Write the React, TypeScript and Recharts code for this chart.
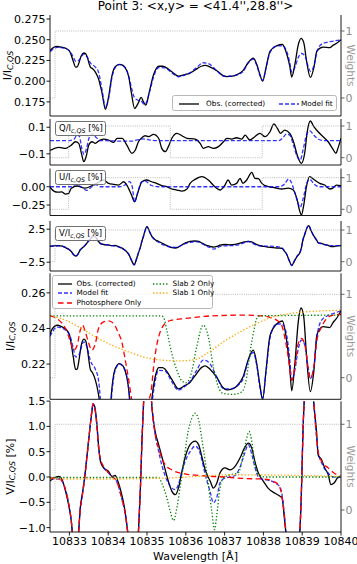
import React from 'react';
import { LineChart, Line, XAxis, YAxis, Legend } from 'recharts';

type Pair = [number, number];

const FONT = '"DejaVu Sans", Verdana, sans-serif';
const X_DOMAIN: [number, number] = [10832.5, 10840];
const X_TICKS = [10833, 10834, 10835, 10836, 10837, 10838, 10839, 10840];

// Stokes I (observed, corrected) in units of I_c,QS
const obsI: Pair[] = [
  [10832.5, 0.2365], [10832.55, 0.2395], [10832.69, 0.2418], [10832.8, 0.241], [10832.9, 0.2398],
  [10833.0, 0.2365], [10833.05, 0.231], [10833.1, 0.224], [10833.16, 0.217], [10833.2, 0.2172],
  [10833.24, 0.2212], [10833.3, 0.23], [10833.37, 0.234], [10833.42, 0.233], [10833.46, 0.229],
  [10833.54, 0.217], [10833.6, 0.215], [10833.67, 0.211], [10833.75, 0.203], [10833.84, 0.186],
  [10833.93, 0.166], [10834.01, 0.1811], [10834.1, 0.2073], [10834.18, 0.2174], [10834.29, 0.2203],
  [10834.38, 0.219], [10834.43, 0.2167], [10834.53, 0.2053], [10834.6, 0.1852], [10834.68, 0.1671],
  [10834.77, 0.1732], [10834.85, 0.1804], [10834.91, 0.1751], [10834.97, 0.1711], [10835.06, 0.1872],
  [10835.17, 0.208], [10835.25, 0.216], [10835.3, 0.218], [10835.4, 0.218], [10835.47, 0.217],
  [10835.64, 0.2114], [10835.81, 0.2061], [10835.98, 0.208], [10836.1, 0.2095], [10836.24, 0.2135],
  [10836.4, 0.218], [10836.5, 0.219], [10836.63, 0.217], [10836.8, 0.2125], [10836.95, 0.207],
  [10837.06, 0.2055], [10837.2, 0.206], [10837.31, 0.2075], [10837.48, 0.213], [10837.61, 0.2225],
  [10837.74, 0.2278], [10837.83, 0.22], [10837.91, 0.208], [10837.98, 0.2], [10838.07, 0.217],
  [10838.17, 0.236], [10838.34, 0.2425], [10838.49, 0.2442], [10838.6, 0.233], [10838.68, 0.218],
  [10838.73, 0.205], [10838.81, 0.22], [10838.9, 0.244], [10838.97, 0.2515], [10839.04, 0.2465],
  [10839.11, 0.225], [10839.21, 0.2045], [10839.3, 0.216], [10839.38, 0.2365], [10839.54, 0.241],
  [10839.71, 0.2405], [10839.8, 0.2435], [10839.88, 0.2455], [10840.0, 0.25],
];

const fitI: Pair[] = [
  [10832.5, 0.2355], [10832.69, 0.2408], [10832.9, 0.2392], [10833.03, 0.235], [10833.1, 0.229],
  [10833.16, 0.224], [10833.24, 0.225], [10833.37, 0.2325], [10833.46, 0.229], [10833.54, 0.222],
  [10833.67, 0.217], [10833.75, 0.211], [10833.84, 0.19], [10833.93, 0.168], [10834.01, 0.179],
  [10834.1, 0.205], [10834.18, 0.2165], [10834.29, 0.22], [10834.43, 0.2168], [10834.53, 0.206],
  [10834.6, 0.192], [10834.68, 0.18], [10834.77, 0.177], [10834.85, 0.176], [10834.93, 0.172],
  [10834.97, 0.173], [10835.06, 0.186], [10835.17, 0.205], [10835.3, 0.2165], [10835.47, 0.216],
  [10835.64, 0.21], [10835.81, 0.2053], [10835.98, 0.2075], [10836.1, 0.21], [10836.28, 0.2165],
  [10836.45, 0.2222], [10836.58, 0.2212], [10836.8, 0.2127], [10836.97, 0.2062], [10837.14, 0.206],
  [10837.31, 0.2075], [10837.48, 0.2119], [10837.61, 0.222], [10837.74, 0.2265], [10837.83, 0.219],
  [10837.91, 0.207], [10837.98, 0.201], [10838.07, 0.216], [10838.17, 0.2345], [10838.34, 0.2425],
  [10838.49, 0.2425], [10838.6, 0.2362], [10838.68, 0.2222], [10838.73, 0.211], [10838.81, 0.2165],
  [10838.9, 0.2287], [10838.98, 0.2334], [10839.07, 0.2306], [10839.15, 0.2184], [10839.21, 0.2119],
  [10839.3, 0.2184], [10839.38, 0.2353], [10839.5, 0.2447], [10839.63, 0.2469], [10839.8, 0.2484],
  [10840.0, 0.2499],
];

const photoI: Pair[] = [
  [10832.5, 0.2471], [10832.73, 0.2447], [10832.9, 0.24], [10833.03, 0.2325], [10833.11, 0.2278],
  [10833.2, 0.2306], [10833.28, 0.239], [10833.34, 0.2419], [10833.41, 0.2381], [10833.5, 0.2316],
  [10833.58, 0.2278], [10833.67, 0.2316], [10833.75, 0.24], [10833.88, 0.2437], [10834.01, 0.2443],
  [10834.14, 0.2428], [10834.25, 0.2381], [10834.36, 0.2316], [10834.44, 0.2222], [10834.53, 0.2109],
  [10834.6, 0.2008], [10834.7, 0.188], [10834.82, 0.182], [10834.95, 0.19], [10835.04, 0.199],
  [10835.11, 0.2053], [10835.17, 0.2184], [10835.26, 0.2316], [10835.34, 0.2381], [10835.47, 0.2428],
  [10835.64, 0.2447], [10835.98, 0.2456], [10836.24, 0.2462], [10836.6, 0.247], [10837.5, 0.2475],
  [10838.0, 0.247], [10838.2, 0.246], [10838.34, 0.2447], [10838.47, 0.2419], [10838.56, 0.234],
  [10838.64, 0.224], [10838.73, 0.2109], [10838.81, 0.2184], [10838.9, 0.2316], [10838.98, 0.2344],
  [10839.07, 0.2306], [10839.15, 0.2184], [10839.21, 0.2119], [10839.3, 0.2184], [10839.38, 0.2334],
  [10839.5, 0.2409], [10839.63, 0.2456], [10839.8, 0.2475], [10840.0, 0.248],
];

const slab2I: Pair[] = [
  [10832.5, 0.2471], [10835.38, 0.2471], [10835.45, 0.245], [10835.51, 0.239], [10835.64, 0.2259],
  [10835.77, 0.2165], [10835.9, 0.2105], [10836.0, 0.2095], [10836.1, 0.212], [10836.16, 0.2165],
  [10836.28, 0.2296], [10836.45, 0.2419], [10836.58, 0.2353], [10836.71, 0.2184], [10836.84, 0.2071],
  [10836.97, 0.2034], [10837.22, 0.203], [10837.44, 0.2043], [10837.57, 0.2127], [10837.65, 0.2259],
  [10837.74, 0.2372], [10837.83, 0.2456], [10837.91, 0.2471], [10840.0, 0.2475],
];

const slab1I: Pair[] = [
  [10832.5, 0.2471], [10832.9, 0.2447], [10833.24, 0.2409], [10833.67, 0.2353], [10834.1, 0.2306],
  [10834.53, 0.2268], [10834.95, 0.2237], [10835.38, 0.2222], [10835.81, 0.2218], [10836.24, 0.2225],
  [10836.54, 0.2259], [10836.97, 0.2325], [10837.4, 0.2381], [10837.83, 0.2428], [10838.25, 0.2465],
  [10838.68, 0.2484], [10839.11, 0.2494], [10839.54, 0.2499], [10840.0, 0.2503],
];

// Stokes Q, U, V in % of I_c,QS
const obsQ: Pair[] = [
  [10832.5, -0.075], [10832.73, -0.051], [10832.9, -0.059], [10833.03, -0.039], [10833.16, -0.009],
  [10833.24, -0.021], [10833.31, -0.096], [10833.37, -0.159], [10833.43, -0.122], [10833.5, -0.034],
  [10833.58, -0.009], [10833.67, -0.021], [10833.75, -0.004], [10833.88, 0.011], [10834.01, 0.004],
  [10834.14, -0.014], [10834.23, 0.017], [10834.36, 0.017], [10834.48, -0.034], [10834.61, -0.096],
  [10834.7, -0.071], [10834.78, -0.009], [10834.87, 0.021], [10834.95, 0.036], [10835.04, 0.029],
  [10835.17, 0.047], [10835.3, 0.017], [10835.38, -0.059], [10835.47, -0.084], [10835.55, -0.046],
  [10835.64, 0.017], [10835.77, 0.054], [10835.9, 0.036], [10836.03, 0.017], [10836.24, 0.011],
  [10836.37, -0.021], [10836.45, -0.059], [10836.58, -0.046], [10836.71, -0.059], [10836.84, -0.046],
  [10836.97, -0.009], [10837.06, 0.017], [10837.18, 0.011], [10837.31, 0.021], [10837.44, 0.011],
  [10837.53, 0.041], [10837.65, 0.004], [10837.78, 0.029], [10837.91, 0.054], [10838.04, 0.029],
  [10838.17, 0.066], [10838.27, 0.125], [10838.36, 0.092], [10838.44, 0.054], [10838.55, 0.079],
  [10838.68, 0.054], [10838.79, -0.021], [10838.87, -0.109], [10838.98, -0.172], [10839.07, -0.084],
  [10839.13, 0.066], [10839.21, 0.147], [10839.3, 0.104], [10839.41, 0.066], [10839.54, 0.029],
  [10839.67, -0.009], [10839.78, -0.059], [10839.87, -0.096], [10839.92, -0.059], [10840.0, 0.017],
];

const fitQ: Pair[] = [
  [10832.5, 0], [10833.0, 0], [10833.12, 0.01], [10833.2, 0.045], [10833.26, 0.03], [10833.32, -0.06],
  [10833.38, -0.105], [10833.44, -0.06], [10833.52, 0.03], [10833.6, 0.05], [10833.7, 0.02],
  [10833.8, 0], [10834.6, -0.005], [10834.75, 0.005], [10834.9, 0.012], [10835.05, 0.005],
  [10835.2, 0], [10838.4, 0], [10838.5, 0.02], [10838.6, 0.05], [10838.68, 0.04], [10838.78, -0.04],
  [10838.87, -0.12], [10838.95, -0.145], [10839.03, -0.06], [10839.12, 0.05], [10839.2, 0.072],
  [10839.3, 0.04], [10839.42, 0.01], [10839.55, 0], [10840.0, 0],
];

const obsU: Pair[] = [
  [10832.5, -0.005], [10832.6, -0.06], [10832.7, -0.075], [10832.8, -0.07], [10832.9, -0.1],
  [10832.97, -0.095], [10833.05, -0.02], [10833.2, 0.01], [10833.4, -0.02], [10833.6, 0.02],
  [10833.75, 0.06], [10833.88, 0.092], [10834.01, 0.046], [10834.14, 0.033], [10834.27, 0.023],
  [10834.4, 0.068], [10834.48, 0.023], [10834.6, -0.113], [10834.68, -0.205], [10834.77, -0.068],
  [10834.87, 0.068], [10834.99, 0.092], [10835.12, 0.068], [10835.25, 0.046], [10835.38, 0.014],
  [10835.51, 0], [10835.64, -0.031], [10835.77, -0.045], [10835.9, -0.059], [10836.03, -0.031],
  [10836.11, 0.046], [10836.24, 0.1], [10836.41, 0.137], [10836.58, 0.092], [10836.75, 0],
  [10836.88, -0.045], [10837.01, 0.023], [10837.09, 0.092], [10837.18, 0.023], [10837.31, 0.046],
  [10837.4, 0.115], [10837.47, 0.046], [10837.57, 0.092], [10837.7, 0.197], [10837.78, 0.115],
  [10837.87, 0.11], [10837.96, 0.046], [10838.13, 0], [10838.3, -0.014], [10838.47, -0.031],
  [10838.64, -0.02], [10838.77, -0.045], [10838.87, -0.18], [10838.94, -0.34], [10838.98, -0.387],
  [10839.04, -0.25], [10839.11, 0], [10839.19, 0.137], [10839.32, 0.092], [10839.45, 0.046],
  [10839.58, 0.023], [10839.71, -0.031], [10839.79, -0.02], [10839.88, 0.023], [10840.0, 0.015],
];

const fitU: Pair[] = [
  [10832.5, 0], [10833.05, 0], [10833.15, 0.03], [10833.3, 0], [10833.45, -0.05], [10833.58, 0],
  [10833.68, 0.03], [10833.8, 0], [10834.3, 0], [10834.45, 0.03], [10834.55, 0.07], [10834.62, 0],
  [10834.68, -0.21], [10834.76, -0.08], [10834.85, 0.06], [10834.95, 0.08], [10835.1, 0.02],
  [10835.3, 0], [10838.4, 0], [10838.55, 0.04], [10838.65, 0.105], [10838.72, 0.06], [10838.82, -0.1],
  [10838.95, -0.28], [10839.03, -0.15], [10839.12, 0.05], [10839.2, 0.1], [10839.3, 0.04],
  [10839.45, 0], [10840.0, 0],
];

const obsV: Pair[] = [
  [10832.5, -0.08], [10832.6, -0.02], [10832.73, 0.01], [10832.81, -0.05], [10832.9, -0.28],
  [10832.98, -0.55], [10833.05, -0.88], [10833.1, -1.3], [10833.16, -1.56], [10833.22, -1.3],
  [10833.24, -1.07], [10833.28, -0.61], [10833.33, -0.35], [10833.39, -0.02], [10833.46, 0.47],
  [10833.52, 0.9], [10833.57, 1.23], [10833.61, 1.43], [10833.65, 1.4], [10833.71, 1.03],
  [10833.75, 0.64], [10833.8, 0.31], [10833.88, 0.18], [10834.01, 0.11], [10834.1, 0.01],
  [10834.18, 0.03], [10834.25, -0.085], [10834.34, -0.32], [10834.42, -0.61], [10834.48, -0.94],
  [10834.53, -1.3], [10834.6, -2.2], [10834.67, -2.9], [10834.73, -2.0], [10834.78, -1.07],
  [10834.83, -0.22], [10834.87, 0.71], [10834.91, 1.43], [10834.95, 2.3], [10835.0, 2.9],
  [10835.06, 2.2], [10835.13, 1.36], [10835.21, 0.9], [10835.3, 0.64], [10835.38, 0.41],
  [10835.47, 0.14], [10835.55, -0.085], [10835.64, -0.28], [10835.73, -0.35], [10835.81, -0.22],
  [10835.9, 0.11], [10835.98, 0.38], [10836.11, 0.64], [10836.24, 0.71], [10836.33, 0.64],
  [10836.41, 0.41], [10836.5, 0.14], [10836.63, -0.085], [10836.71, -0.22], [10836.8, -0.12],
  [10836.88, 0.08], [10837.01, 0.18], [10837.14, 0.14], [10837.27, 0.21], [10837.4, 0.38],
  [10837.51, 0.57], [10837.61, 0.67], [10837.7, 0.57], [10837.78, 0.31], [10837.87, 0.08],
  [10838.0, -0.085], [10838.12, -0.22], [10838.3, -0.32], [10838.43, -0.38], [10838.48, -0.41],
  [10838.54, -0.81], [10838.6, -1.3], [10838.67, -2.3], [10838.73, -3.0], [10838.8, -2.3],
  [10838.88, -1.5], [10838.94, -1.07], [10838.98, -0.28], [10839.02, 0.9], [10839.07, 1.8],
  [10839.13, 2.8], [10839.17, 3.05], [10839.22, 2.4], [10839.31, 1.36], [10839.37, 0.9],
  [10839.41, 0.44], [10839.5, 0.34], [10839.58, 0.18], [10839.67, 0.05], [10839.74, -0.15],
  [10839.82, -0.12], [10839.91, -0.02], [10840.0, 0.01],
];

const fitV: Pair[] = [
  [10832.5, -0.05], [10832.73, -0.04], [10832.81, -0.08], [10832.9, -0.25], [10832.98, -0.52],
  [10833.05, -0.88], [10833.1, -1.3], [10833.16, -1.6], [10833.22, -1.3], [10833.24, -1.07],
  [10833.28, -0.65], [10833.33, -0.38], [10833.39, -0.05], [10833.46, 0.45], [10833.52, 0.9],
  [10833.57, 1.25], [10833.61, 1.45], [10833.65, 1.38], [10833.71, 1.0], [10833.75, 0.6],
  [10833.8, 0.35], [10833.88, 0.2], [10834.01, 0.08], [10834.1, 0], [10834.18, -0.04],
  [10834.25, -0.15], [10834.34, -0.4], [10834.42, -0.65], [10834.48, -0.95], [10834.53, -1.3],
  [10834.6, -2.2], [10834.67, -2.9], [10834.73, -2.0], [10834.78, -1.07], [10834.83, -0.22],
  [10834.87, 0.71], [10834.91, 1.43], [10834.95, 2.3], [10835.0, 2.9], [10835.06, 2.2],
  [10835.13, 1.36], [10835.21, 0.85], [10835.3, 0.51], [10835.38, 0.24], [10835.47, 0.02],
  [10835.55, -0.12], [10835.64, -0.22], [10835.73, -0.25], [10835.81, -0.15], [10835.9, 0.1],
  [10835.98, 0.3], [10836.11, 0.5], [10836.24, 0.61], [10836.33, 0.55], [10836.41, 0.35],
  [10836.5, 0.05], [10836.63, -0.3], [10836.71, -0.51], [10836.8, -0.4], [10836.88, -0.12],
  [10837.01, -0.02], [10837.14, 0], [10837.27, 0.03], [10837.4, 0.2], [10837.51, 0.45],
  [10837.61, 0.64], [10837.7, 0.45], [10837.78, 0.2], [10837.87, 0], [10838.0, -0.05],
  [10838.12, -0.06], [10838.3, -0.12], [10838.43, -0.2], [10838.48, -0.35], [10838.54, -0.75],
  [10838.6, -1.3], [10838.67, -2.3], [10838.73, -3.0], [10838.8, -2.3], [10838.88, -1.5],
  [10838.94, -1.07], [10838.98, -0.28], [10839.02, 0.9], [10839.07, 1.8], [10839.13, 2.8],
  [10839.17, 3.05], [10839.22, 2.4], [10839.31, 1.36], [10839.37, 0.8], [10839.41, 0.5],
  [10839.5, 0.28], [10839.58, 0.16], [10839.67, 0.08], [10839.74, 0.02], [10839.82, 0],
  [10840.0, 0],
];

const photoV: Pair[] = [
  [10832.5, -0.02], [10832.73, -0.03], [10832.81, -0.08], [10832.9, -0.25], [10832.98, -0.52],
  [10833.05, -0.88], [10833.1, -1.3], [10833.16, -1.6], [10833.22, -1.3], [10833.24, -1.07],
  [10833.28, -0.65], [10833.33, -0.38], [10833.39, -0.05], [10833.46, 0.45], [10833.52, 0.9],
  [10833.57, 1.25], [10833.61, 1.45], [10833.65, 1.38], [10833.71, 1.0], [10833.75, 0.6],
  [10833.8, 0.36], [10833.88, 0.21], [10834.01, 0.08], [10834.1, 0], [10834.18, -0.04],
  [10834.25, -0.15], [10834.34, -0.4], [10834.42, -0.65], [10834.48, -0.95], [10834.53, -1.3],
  [10834.6, -2.2], [10834.67, -2.9], [10834.73, -2.0], [10834.78, -1.07], [10834.83, -0.22],
  [10834.87, 0.71], [10834.91, 1.43], [10834.95, 2.3], [10835.0, 2.9], [10835.06, 2.2],
  [10835.13, 1.36], [10835.21, 0.85], [10835.3, 0.57], [10835.47, 0.24], [10835.64, 0.14],
  [10835.98, 0.06], [10836.33, 0.03], [10836.7, 0.01], [10837.01, 0], [10837.5, -0.03],
  [10838.0, -0.04], [10838.3, -0.1], [10838.43, -0.22], [10838.5, -0.5], [10838.54, -0.75],
  [10838.6, -1.3], [10838.67, -2.3], [10838.73, -3.0], [10838.8, -2.3], [10838.88, -1.5],
  [10838.94, -1.07], [10838.98, -0.28], [10839.02, 0.9], [10839.07, 1.8], [10839.13, 2.8],
  [10839.17, 3.05], [10839.22, 2.4], [10839.31, 1.36], [10839.37, 0.8], [10839.41, 0.5],
  [10839.5, 0.31], [10839.67, 0.18], [10839.82, 0.08], [10840.0, 0.01],
];

const slab2V: Pair[] = [
  [10832.5, -0.01], [10835.3, -0.01], [10835.38, -0.12], [10835.51, -0.41], [10835.6, -0.68],
  [10835.68, -0.86], [10835.77, -0.61], [10835.85, -0.22], [10835.94, 0.24], [10836.03, 0.77],
  [10836.16, 1.17], [10836.24, 1.26], [10836.33, 1.13], [10836.41, 0.77], [10836.5, 0.31],
  [10836.58, -0.15], [10836.67, -0.68], [10836.74, -1.04], [10836.8, -0.74], [10836.88, -0.22],
  [10836.97, -0.02], [10837.18, 0.05], [10837.35, 0.08], [10837.48, 0.44], [10837.57, 0.77],
  [10837.63, 0.9], [10837.7, 0.71], [10837.78, 0.24], [10837.87, 0.05], [10838.04, 0],
  [10840.0, 0],
];

const slab1V: Pair[] = [
  [10832.5, -0.04], [10834.0, -0.04], [10835.5, -0.02], [10836.5, 0.02], [10837.2, 0.045],
  [10838.0, 0.04], [10839.0, 0.03], [10840.0, 0.01],
];

// fit weights (0 = ignored, 1 = used)
const weightsIV: Pair[] = [[10832.5, 0], [10832.63, 1], [10840.0, 1]];
const weightsQU: Pair[] = [[10832.5, 0], [10832.98, 1], [10835.6, 0], [10837.97, 1], [10840.0, 1]];

interface Style { color: string; dash?: string; width: number; opacity?: number }
interface Series { data: Pair[]; style: Style }

const OBS: Style = { color: '#000000', width: 1.3 };
const FIT: Style = { color: '#0000ff', dash: '4 2', width: 1.3, opacity: 0.8 };
const PHOTO: Style = { color: '#ff0000', dash: '5.5 3.5', width: 1.3 };
const SLAB2: Style = { color: '#008000', dash: '1.3 2', width: 1.3 };
const SLAB1: Style = { color: '#ffa500', dash: '1.3 2', width: 1.3 };
const WGT: Style = { color: '#a8a8a8', dash: '1 1.2', width: 0.8 };

const toPoints = (a: Pair[]) => a.map(([x, y]) => ({ x, y }));
const fmt = (d: number) => (v: number) => v.toFixed(d).replace('-', '\u2212');

function SideTitle(props: any) {
  const { cx, cy, main, sub, tail, rotate = -90, color = '#000', size = 11 } = props;
  return (
    <text
      x={cx}
      y={cy}
      transform={`rotate(${rotate}, ${cx}, ${cy})`}
      textAnchor="middle"
      dominantBaseline="central"
      fontFamily={FONT}
      fontSize={size}
      fill={color}
    >
      <tspan>{main}</tspan>
      {sub ? <tspan dy={2.5} fontSize={size * 0.72} fontStyle="italic">{sub}</tspan> : null}
      {tail ? <tspan dy={sub ? -2.5 : 0}>{tail}</tspan> : null}
    </text>
  );
}

function XTitle() {
  return (
    <text x={195.5} y={560} textAnchor="middle" fontFamily={FONT} fontSize={11} fill="#000">
      Wavelength [Å]
    </text>
  );
}

function Sample({ s, w }: { s: Style; w: number }) {
  return (
    <svg width={w} height={6} style={{ position: 'absolute', left: 0, top: -3 }}>
      <line x1={0} y1={3} x2={w} y2={3} stroke={s.color} strokeWidth={s.width}
        strokeDasharray={s.dash} strokeOpacity={s.opacity ?? 1} />
    </svg>
  );
}

interface Entry { label: string; style: Style; x: number; y: number; w: number; gap: number }

const boxStyle: React.CSSProperties = {
  position: 'relative', width: '100%', height: '100%', boxSizing: 'border-box',
  border: '0.8px solid #b8b8b8', borderRadius: 2.5, background: 'rgba(255,255,255,0.8)',
  fontFamily: FONT, fontSize: 7.3, color: '#000',
};

function LegendBox({ entries }: { entries: Entry[] }) {
  return (
    <div style={boxStyle}>
      {entries.map((e) => (
        <div key={e.label} style={{ position: 'absolute', left: e.x, top: e.y }}>
          <Sample s={e.style} w={e.w} />
          <span style={{ position: 'absolute', left: e.w + e.gap, top: -5, lineHeight: '10px', whiteSpace: 'nowrap' }}>
            {e.label}
          </span>
        </div>
      ))}
    </div>
  );
}

function StokesTag({ name }: { name: string }) {
  return (
    <div style={{ ...boxStyle, border: '0.8px solid #707070', fontSize: 8.5, lineHeight: '13px', paddingLeft: 3 }}>
      {name}/I<span style={{ fontSize: 6.3, fontStyle: 'italic', position: 'relative', top: 2 }}>c,QS</span> [%]
    </div>
  );
}

interface PanelProps {
  top: number;
  bottom: number;
  xLabels?: boolean;
  yDomain: [number, number];
  yTicks: number[];
  digits: number;
  wDomain: [number, number];
  weights: Pair[];
  series: Series[];
  yTitle?: React.ReactElement;
  wTitle?: boolean;
  legend?: React.ReactNode;
  legendBox?: { left: number; top: number; width: number; height: number };
}

function Panel(p: PanelProps) {
  const xh = p.xLabels ? 32 : 1;
  const cy = (p.top + p.bottom) / 2;
  return (
    <div style={{ position: 'absolute', left: 0, top: 0 }}>
      <LineChart width={357} height={564} margin={{ top: p.top, right: 0, bottom: 564 - p.bottom - xh, left: 0 }}>
        <XAxis
          dataKey="x" type="number" domain={X_DOMAIN} ticks={X_TICKS} allowDataOverflow
          height={xh} tickSize={3.5} tickMargin={2}
          axisLine={{ stroke: '#000', strokeWidth: 0.9 }} tickLine={{ stroke: '#000', strokeWidth: 0.9 }}
          tick={p.xLabels ? { fill: '#000', fontSize: 11, fontFamily: FONT } : false}
          label={p.xLabels ? <XTitle /> : undefined}
        />
        <XAxis
          xAxisId="top" orientation="top" dataKey="x" type="number" domain={X_DOMAIN} allowDataOverflow
          height={0} tick={false} tickLine={false} axisLine={{ stroke: '#000', strokeWidth: 0.9 }}
        />
        <YAxis
          type="number" domain={p.yDomain} ticks={p.yTicks} allowDataOverflow width={50}
          tickSize={3.5} tickMargin={1} tickFormatter={fmt(p.digits)}
          tick={{ fill: '#000', fontSize: 11, fontFamily: FONT }}
          axisLine={{ stroke: '#000', strokeWidth: 0.9 }} tickLine={{ stroke: '#000', strokeWidth: 0.9 }}
          label={p.yTitle}
        />
        <YAxis
          yAxisId="w" orientation="right" type="number" domain={p.wDomain} ticks={[0, 1]} allowDataOverflow
          width={16} tickSize={3.5} tickMargin={1}
          tick={{ fill: '#8c8c8c', fontSize: 11, fontFamily: FONT }}
          axisLine={{ stroke: '#000', strokeWidth: 0.9 }} tickLine={{ stroke: '#555', strokeWidth: 0.9 }}
          label={p.wTitle ? <SideTitle cx={351} cy={cy} main="Weights" rotate={90} color="#9a9a9a" size={10.5} /> : undefined}
        />
        {p.series.map((s, i) => (
          <Line
            key={i} data={toPoints(s.data)} dataKey="y" type="monotone" dot={false} activeDot={false}
            isAnimationActive={false} stroke={s.style.color} strokeWidth={s.style.width}
            strokeDasharray={s.style.dash} strokeOpacity={s.style.opacity ?? 1}
          />
        ))}
        <Line
          yAxisId="w" data={toPoints(p.weights)} dataKey="y" type="stepAfter" dot={false} activeDot={false}
          isAnimationActive={false} stroke={WGT.color} strokeWidth={WGT.width} strokeDasharray={WGT.dash}
        />
        {p.legend && p.legendBox ? (
          <Legend
            verticalAlign="middle" align="center"
            wrapperStyle={{ ...p.legendBox, position: 'absolute', margin: 0, padding: 0 }}
            content={() => p.legend}
          />
        ) : null}
      </LineChart>
    </div>
  );
}

const topLegend: Entry[] = [
  { label: 'Obs. (corrected)', style: OBS, x: 6, y: 8, w: 20, gap: 7 },
  { label: 'Model fit', style: FIT, x: 106, y: 8, w: 20, gap: 2 },
];

const compLegend: Entry[] = [
  { label: 'Obs. (corrected)', style: OBS, x: 4.5, y: 7.7, w: 14, gap: 5 },
  { label: 'Model fit', style: FIT, x: 4.5, y: 17.3, w: 14, gap: 5 },
  { label: 'Photosphere Only', style: PHOTO, x: 4.5, y: 27.3, w: 14, gap: 5 },
  { label: 'Slab 2 Only', style: SLAB2, x: 99.5, y: 7.7, w: 15, gap: 5 },
  { label: 'Slab 1 Only', style: SLAB1, x: 99.5, y: 17.3, w: 15, gap: 5 },
];

export default function App() {
  return (
    <div style={{ position: 'absolute', left: 0, top: 0, width: 357, height: 564, background: '#fff', fontFamily: FONT }}>
      <div style={{ position: 'absolute', left: 50, width: 291, top: 0, textAlign: 'center', fontSize: 12, lineHeight: '12px', whiteSpace: 'nowrap' }}>
        Point 3: &lt;x,y&gt; = &lt;41.4'',28.8''&gt;
      </div>
      <Panel
        top={15} bottom={116} yDomain={[0.158, 0.2798]} yTicks={[0.175, 0.2, 0.225, 0.25, 0.275]} digits={3}
        wDomain={[-0.269, 1.239]} weights={weightsIV}
        series={[{ data: obsI, style: OBS }, { data: fitI, style: FIT }]}
        yTitle={<SideTitle cx={7} cy={65.5} main="I/I" sub="C,QS" />} wTitle
        legend={<LegendBox entries={topLegend} />} legendBox={{ left: 172, top: 95, width: 165, height: 16 }}
      />
      <Panel
        top={119} bottom={165} yDomain={[-0.184, 0.162]} yTicks={[-0.1, 0, 0.1]} digits={1}
        wDomain={[-0.23, 1.22]} weights={weightsQU}
        series={[{ data: obsQ, style: OBS }, { data: fitQ, style: FIT }]}
        legend={<StokesTag name="Q" />} legendBox={{ left: 55, top: 121, width: 51, height: 14.5 }}
      />
      <Panel
        top={168.5} bottom={215.5} yDomain={[-0.393, 0.249]} yTicks={[-0.25, 0]} digits={2}
        wDomain={[-0.196, 1.29]} weights={weightsQU}
        series={[{ data: obsU, style: OBS }, { data: fitU, style: FIT }]}
        legend={<StokesTag name="U" />} legendBox={{ left: 55, top: 170, width: 51, height: 14.5 }}
      />
      <Panel
        top={221} bottom={271} yDomain={[-3.83, 3.74]} yTicks={[-2.5, 0, 2.5]} digits={1}
        wDomain={[-0.293, 1.284]} weights={weightsIV}
        series={[{ data: obsV, style: OBS }, { data: fitV, style: FIT }]}
        legend={<StokesTag name="V" />} legendBox={{ left: 55, top: 226, width: 51, height: 14.5 }}
      />
      <Panel
        top={273.3} bottom={399.3} yDomain={[0.2002, 0.271]} yTicks={[0.22, 0.24, 0.26]} digits={2}
        wDomain={[-0.259, 1.252]} weights={weightsIV}
        series={[
          { data: obsI, style: OBS }, { data: fitI, style: FIT }, { data: photoI, style: PHOTO },
          { data: slab2I, style: SLAB2 }, { data: slab1I, style: SLAB1 },
        ]}
        yTitle={<SideTitle cx={10} cy={336.3} main="I/I" sub="C,QS" />} wTitle
        legend={<LegendBox entries={compLegend} />} legendBox={{ left: 52, top: 275, width: 161, height: 34 }}
      />
      <Panel
        top={401.3} bottom={532} xLabels yDomain={[-1.087, 1.496]} yTicks={[-1, -0.5, 0, 0.5, 1, 1.5]} digits={1}
        wDomain={[-0.257, 1.268]} weights={weightsIV}
        series={[
          { data: obsV, style: OBS }, { data: fitV, style: FIT }, { data: photoV, style: PHOTO },
          { data: slab2V, style: SLAB2 }, { data: slab1V, style: SLAB1 },
        ]}
        yTitle={<SideTitle cx={10} cy={466.6} main="V/I" sub="C,QS" tail=" [%]" />} wTitle
      />
    </div>
  );
}
